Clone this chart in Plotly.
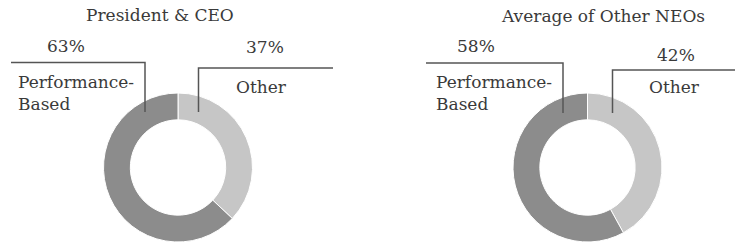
import plotly.graph_objects as go

W, H = 735, 250

chart_titles = ["President & CEO", "Average of Other NEOs"]
categories = ["Other", "Performance-Based"]
ceo_values = [37, 63]
neo_values = [42, 58]
category_text = ["Other", "Performance-<br>Based"]

colors = ["#c6c6c6", "#8c8c8c"]
FONT = "DejaVu Serif"
FS = 17
TXT = "#3a3a3a"


def px(x):
    return x / W


def py(y):
    return 1 - y / H


fig = go.Figure()

pies = [(178, 167.5, 74.5), (587.5, 167.5, 74.5)]
series = [ceo_values, neo_values]

for (cx, cy, r), vals in zip(pies, series):
    fig.add_trace(go.Pie(
        labels=categories,
        values=vals,
        sort=False,
        direction="clockwise",
        rotation=0,
        hole=0.64,
        marker=dict(colors=colors, line=dict(color="white", width=1)),
        textinfo="none",
        hoverinfo="label+percent",
        showlegend=False,
        domain=dict(x=[px(cx - r), px(cx + r)], y=[py(cy + r), py(cy - r)]),
    ))

annotations = []
shapes = []

title_pos = [(160, 15), (603, 16)]
for t, (x, y) in zip(chart_titles, title_pos):
    annotations.append(dict(text=t, x=px(x), y=py(y), xref="paper", yref="paper",
                            showarrow=False, xanchor="center", yanchor="middle",
                            font=dict(family=FONT, size=FS, color=TXT)))

layouts = [
    {
        "Other": dict(pct=(265, 47), lab=(261, 87), line=[(333, 68), (198.5, 68), (198.5, 112)]),
        "Performance-Based": dict(pct=(66, 46), lab=(76, 93), line=[(11, 62.5), (145, 62.5), (145, 112)]),
    },
    {
        "Other": dict(pct=(676, 55), lab=(674, 87), line=[(735, 70), (612.5, 70), (612.5, 113)]),
        "Performance-Based": dict(pct=(476, 46), lab=(494, 93), line=[(426, 63), (563, 63), (563, 113)]),
    },
]

for lay, vals in zip(layouts, series):
    for cat, ctext, v in zip(categories, category_text, vals):
        spec = lay[cat]
        annotations.append(dict(text=f"{v}%", x=px(spec["pct"][0]), y=py(spec["pct"][1]),
                                xref="paper", yref="paper", showarrow=False,
                                xanchor="center", yanchor="middle",
                                font=dict(family=FONT, size=FS, color=TXT)))
        annotations.append(dict(text=ctext, x=px(spec["lab"][0]), y=py(spec["lab"][1]),
                                xref="paper", yref="paper", showarrow=False,
                                xanchor="center", yanchor="middle", align="left",
                                font=dict(family=FONT, size=FS, color=TXT)))
        pts = spec["line"]
        path = "M " + " L ".join(f"{px(x)},{py(y)}" for x, y in pts)
        shapes.append(dict(type="path", path=path, xref="paper", yref="paper",
                           line=dict(color="#555555", width=1.5)))

fig.update_layout(
    width=W, height=H,
    margin=dict(l=0, r=0, t=0, b=0),
    paper_bgcolor="white",
    plot_bgcolor="white",
    font=dict(family=FONT),
    annotations=annotations,
    shapes=shapes,
)

fig.write_html("out.html", config={"displayModeBar": False},
               post_script="document.body.style.margin='0';")
